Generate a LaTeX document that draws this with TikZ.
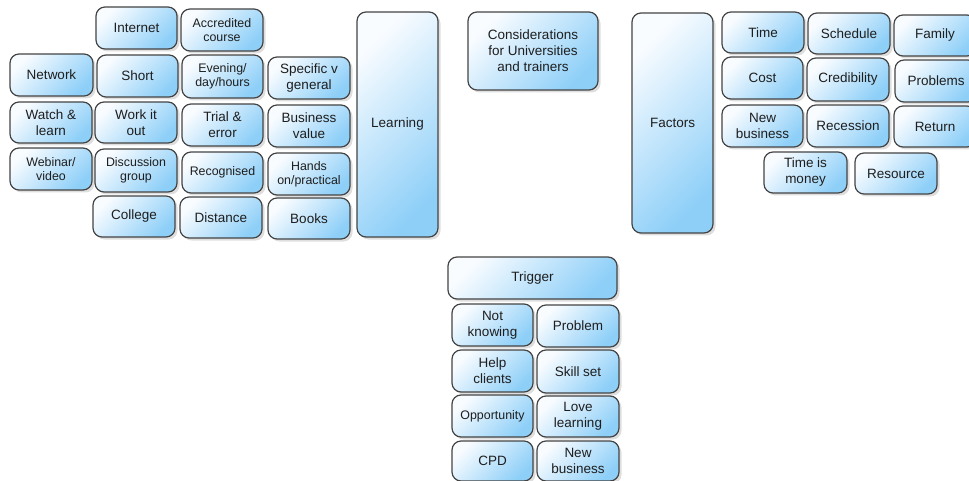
\documentclass[tikz,border=0pt]{standalone}
\usepackage{fontspec}
\setmainfont{Liberation Sans}
\usetikzlibrary{shadows}
\definecolor{bxborder}{HTML}{444444}
\definecolor{bxblue}{HTML}{8ECFF8}
\definecolor{bxwhite}{HTML}{F9FCFF}
\definecolor{bxtext}{HTML}{1E1E1E}
\tikzset{
  bx/.style={rectangle, rounded corners=9pt, draw=bxborder, line width=1.2pt,
    top color=bxwhite, bottom color=bxblue, shading angle=45,
    drop shadow={shadow xshift=2.5pt, shadow yshift=-2.5pt, fill=black, opacity=0.13},
    align=center, text=bxtext, inner sep=1pt,
    font=\fontsize{13.5}{16}\selectfont},
  sm/.style={font=\fontsize{12.4}{13.6}\selectfont},
}
\begin{document}
\begin{tikzpicture}[x=1pt,y=-1pt]
\useasboundingbox (0,0) rectangle (969,481);
\clip (0,0) rectangle (969,481);
% left cluster
\node[bx, minimum width=81, minimum height=42] (internet) at (136.5,28) {Internet};
\node[bx, sm, minimum width=82, minimum height=42] (accred) at (222,30) {Accredited\\course};
\node[bx, minimum width=83, minimum height=42] (network) at (51.5,75) {Network};
\node[bx, minimum width=81, minimum height=42] (short) at (137.5,76) {Short};
\node[bx, sm, minimum width=81, minimum height=43] (evening) at (222.5,76.5) {Evening/\\day/hours};
\node[bx, minimum width=82, minimum height=42] (specific) at (309,78) {Specific v\\general};
\node[bx, minimum width=82, minimum height=41] (watch) at (51,122.5) {Watch \&\\learn};
\node[bx, minimum width=82, minimum height=41] (work) at (136,122.5) {Work it\\out};
\node[bx, minimum width=81, minimum height=42] (trial) at (222.5,125) {Trial \&\\error};
\node[bx, minimum width=82, minimum height=42] (business) at (309,126) {Business\\value};
\node[bx, sm, minimum width=82, minimum height=42] (webinar) at (51,169) {Webinar/\\video};
\node[bx, sm, minimum width=82, minimum height=43] (discussion) at (136,170.5) {Discussion\\group};
\node[bx, sm, minimum width=81, minimum height=41] (recognised) at (222.5,172.5) {Recognised};
\node[bx, sm, minimum width=82, minimum height=42] (hands) at (309,174) {Hands\\on/practical};
\node[bx, minimum width=82, minimum height=41] (college) at (134,216.5) {College};
\node[bx, minimum width=82, minimum height=41] (distance) at (221,217.5) {Distance};
\node[bx, minimum width=82, minimum height=41] (books) at (309,218.5) {Books};
% learning and considerations
\node[bx, minimum width=81, minimum height=225] (learning) at (397.5,124.5) {Learning};
\node[bx, minimum width=130, minimum height=78] (consid) at (533,51) {Considerations\\for Universities\\and trainers};
% factors
\node[bx, minimum width=81, minimum height=220] (factors) at (672.5,123) {Factors};
\node[bx, minimum width=82, minimum height=41] (time) at (763,32.5) {Time};
\node[bx, minimum width=82, minimum height=41] (schedule) at (849,33.5) {Schedule};
\node[bx, minimum width=82, minimum height=41] (family) at (935,35.5) {Family};
\node[bx, minimum width=81, minimum height=42] (cost) at (762.5,78) {Cost};
\node[bx, minimum width=82, minimum height=43] (credibility) at (848,79.5) {Credibility};
\node[bx, minimum width=82, minimum height=42] (problems) at (936,81) {Problems};
\node[bx, minimum width=81, minimum height=42] (newbiz) at (762.5,126) {New\\business};
\node[bx, minimum width=82, minimum height=42] (recession) at (848,126) {Recession};
\node[bx, minimum width=82, minimum height=41] (return) at (935,126.5) {Return};
\node[bx, minimum width=83, minimum height=41] (timemoney) at (805.5,172.5) {Time is\\money};
\node[bx, minimum width=82, minimum height=41] (resource) at (896,173.5) {Resource};
% trigger
\node[bx, minimum width=169, minimum height=42] (trigger) at (532.5,278) {Trigger};
\node[bx, minimum width=81, minimum height=42] (notknow) at (492.5,325) {Not\\knowing};
\node[bx, minimum width=82, minimum height=42] (problem) at (578,326) {Problem};
\node[bx, minimum width=81, minimum height=42] (help) at (492.5,371) {Help\\clients};
\node[bx, minimum width=82, minimum height=43] (skill) at (578,371.5) {Skill set};
\node[bx, sm, minimum width=81, minimum height=42] (opport) at (492.5,416) {Opportunity};
\node[bx, minimum width=82, minimum height=41] (love) at (578,416.5) {Love\\learning};
\node[bx, minimum width=81, minimum height=40] (cpd) at (492.5,461) {CPD};
\node[bx, minimum width=82, minimum height=40] (newbiz2) at (578,461) {New\\business};
\end{tikzpicture}
\end{document}
